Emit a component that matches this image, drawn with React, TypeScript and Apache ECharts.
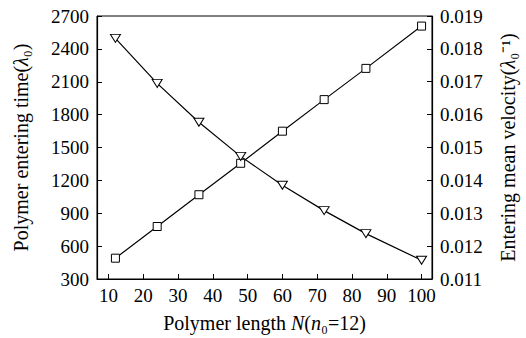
import React, { useEffect, useRef } from "react";
import * as echarts from "echarts";

const lengths = [12, 24, 36, 48, 60, 72, 84, 100];
const enteringTime = [490, 779, 1069, 1356, 1649, 1937, 2222, 2608];
const meanVelocity = [0.01832, 0.01695, 0.01577, 0.01473, 0.01385, 0.01308, 0.01238, 0.01157];
const xTicks = [10, 20, 30, 40, 50, 60, 70, 80, 90, 100];

const FONT = "'Liberation Serif', 'Times New Roman', serif";
const LABEL_SIZE = 19;
const NAME_SIZE = 20;

export default function App() {
  const ref = useRef<HTMLDivElement>(null);
  useEffect(() => {
    if (!ref.current) return;
    const chart = echarts.init(ref.current, undefined, { renderer: "svg" });
    const rich = {
      it: { fontStyle: "italic", fontFamily: FONT, fontSize: NAME_SIZE, color: "#000" },
    };
    chart.setOption({
      animation: false,
      backgroundColor: "#fff",
      textStyle: { fontFamily: FONT, color: "#000" },
      grid: {
        left: 97,
        right: 93,
        top: 16,
        bottom: 59,
        show: true,
        borderColor: "#000",
        borderWidth: 1,
        backgroundColor: "transparent",
      },
      xAxis: {
        type: "value",
        min: 6.7,
        max: 103,
        name: "Polymer length {it|N}({it|n}₀=12)",
        nameLocation: "middle",
        nameGap: 34,
        nameTextStyle: { fontFamily: FONT, fontSize: NAME_SIZE, color: "#000", rich },
        axisLine: { lineStyle: { color: "#000", width: 1.2 } },
        axisTick: { inside: true, length: 5, customValues: xTicks, lineStyle: { color: "#000" } },
        axisLabel: { customValues: xTicks, fontFamily: FONT, fontSize: LABEL_SIZE, color: "#000", margin: 7 },
        splitLine: { show: false },
      },
      yAxis: [
        {
          type: "value",
          min: 300,
          max: 2700,
          interval: 300,
          position: "left",
          name: "Polymer entering time({it|λ}₀)",
          nameLocation: "middle",
          nameRotate: 90,
          nameGap: 66,
          nameTextStyle: { fontFamily: FONT, fontSize: NAME_SIZE, color: "#000", rich },
          axisLine: { show: true, lineStyle: { color: "#000", width: 1.2 } },
          axisTick: { show: true, inside: true, length: 5, lineStyle: { color: "#000" } },
          axisLabel: {
            fontFamily: FONT,
            fontSize: LABEL_SIZE,
            color: "#000",
            margin: 8,
            formatter: (v: number) => String(v),
          },
          splitLine: { show: false },
        },
        {
          type: "value",
          min: 0.011,
          max: 0.019,
          interval: 0.001,
          position: "right",
          name: "Entering mean velocity({it|λ}₀⁻¹)",
          nameLocation: "middle",
          nameRotate: 90,
          nameGap: 66,
          nameTextStyle: { fontFamily: FONT, fontSize: NAME_SIZE, color: "#000", rich },
          axisLine: { show: true, lineStyle: { color: "#000", width: 1.2 } },
          axisTick: { show: true, inside: true, length: 5, lineStyle: { color: "#000" } },
          axisLabel: {
            fontFamily: FONT,
            fontSize: LABEL_SIZE,
            color: "#000",
            margin: 8,
            formatter: (v: number) => v.toFixed(3),
          },
          splitLine: { show: false },
        },
      ],
      series: [
        {
          type: "line",
          yAxisIndex: 0,
          data: lengths.map((x, i) => [x, enteringTime[i]]),
          symbol: "rect",
          symbolSize: 8,
          itemStyle: { color: "#fff", borderColor: "#000", borderWidth: 1 },
          lineStyle: { color: "#000", width: 1.2 },
          z: 3,
        },
        {
          type: "line",
          yAxisIndex: 1,
          data: lengths.map((x, i) => [x, meanVelocity[i]]),
          symbol: "triangle",
          symbolRotate: 180,
          symbolSize: [10, 8],
          itemStyle: { color: "#fff", borderColor: "#000", borderWidth: 1 },
          lineStyle: { color: "#000", width: 1.2 },
          z: 3,
        },
      ],
    });
    return () => chart.dispose();
  }, []);
  return (
    <div
      ref={ref}
      style={{ position: "fixed", left: 0, top: 0, width: 526, height: 338 }}
    />
  );
}
